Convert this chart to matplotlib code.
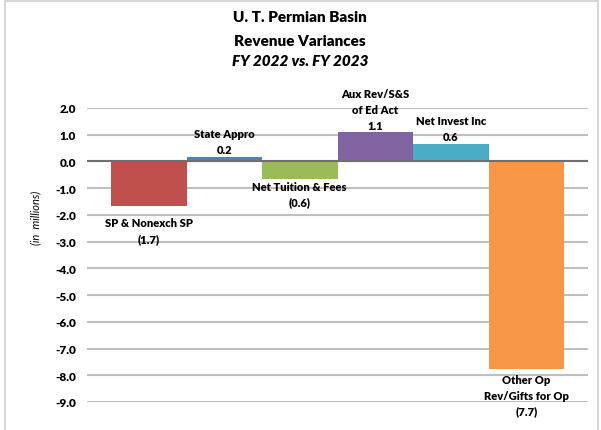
import matplotlib.pyplot as plt
from matplotlib.patches import Rectangle

# Daten (in Mio.)
categories = ["SP & Nonexch SP", "State Appro", "Net Tuition & Fees",
              "Aux Rev/S&S\nof Ed Act", "Net Invest Inc", "Other Op\nRev/Gifts for Op"]
values = [-1.67, 0.15, -0.64, 1.1, 0.64, -7.75]
value_labels = ["(1.7)", "0.2", "(0.6)", "1.1", "0.6", "(7.7)"]
colors = ["#C0504D", "#4F81BD", "#9BBB59", "#8064A2", "#4BACC6", "#F79646"]
y_ticks = [2, 1, 0, -1, -2, -3, -4, -5, -6, -7, -8, -9]

# Abstand der Beschriftung zum Balkenende (Pixel)
label_gap = [11, 2, 2, 1, 2, 5]

plt.rcParams['font.family'] = ['Lato', 'DejaVu Sans']

fig = plt.figure(figsize=(6.01, 4.31), dpi=100)
fig.patches.append(Rectangle((5 / 601, -0.01), 593 / 601, 1 - 2 / 431 + 0.01,
                             transform=fig.transFigure, fill=False,
                             edgecolor="#D0D0D0", linewidth=1.2))

ax = fig.add_axes([87 / 601, 28 / 431, 501 / 601, 294 / 431])
x = list(range(len(values)))
ax.bar(x, values, width=1.0, color=colors, zorder=2)

ax.set_ylim(-9, 2)
ax.set_xlim(-0.5 - 24 / 75.5, 5.5 + 24 / 75.5)
ax.set_yticks(y_ticks)
ax.set_yticklabels([f"{v:.1f}" for v in y_ticks], fontsize=8.5, fontweight='heavy')
ax.tick_params(axis='y', length=0, pad=8)
ax.set_xticks([])
for s in ax.spines.values():
    s.set_visible(False)
ax.grid(axis='y', color="#BFBFBF", linewidth=1.5, zorder=0)
ax.axhline(0, color="#6F6F6F", linewidth=1.5, zorder=3)

for i, (cat, v, lab) in enumerate(zip(categories, values, value_labels)):
    txt = f"{cat}\n{lab}"
    if v >= 0:
        ax.annotate(txt, (i, v), xytext=(0, label_gap[i]), textcoords='offset pixels',
                    ha='center', va='bottom', fontsize=8, fontweight='heavy',
                    linespacing=1.55, annotation_clip=False)
    else:
        ax.annotate(txt, (i, v), xytext=(0, -label_gap[i]), textcoords='offset pixels',
                    ha='center', va='top', fontsize=8, fontweight='heavy',
                    linespacing=1.55, annotation_clip=False)

fig.text(36 / 601, 1 - 218 / 431, "(in  millions)", rotation=90, ha='center', va='center',
         fontsize=8, fontstyle='italic')

fig.text(300 / 601, 1 - 18 / 431, "U. T. Permian Basin", ha='center', va='center',
         fontsize=11, fontweight='heavy')
fig.text(300 / 601, 1 - 41 / 431, "Revenue Variances", ha='center', va='center',
         fontsize=11, fontweight='heavy')
fig.text(300 / 601, 1 - 62 / 431, "FY 2022 vs. FY 2023", ha='center', va='center',
         fontsize=11, fontweight='heavy', fontstyle='italic')

fig.savefig("out.png", dpi=100)
